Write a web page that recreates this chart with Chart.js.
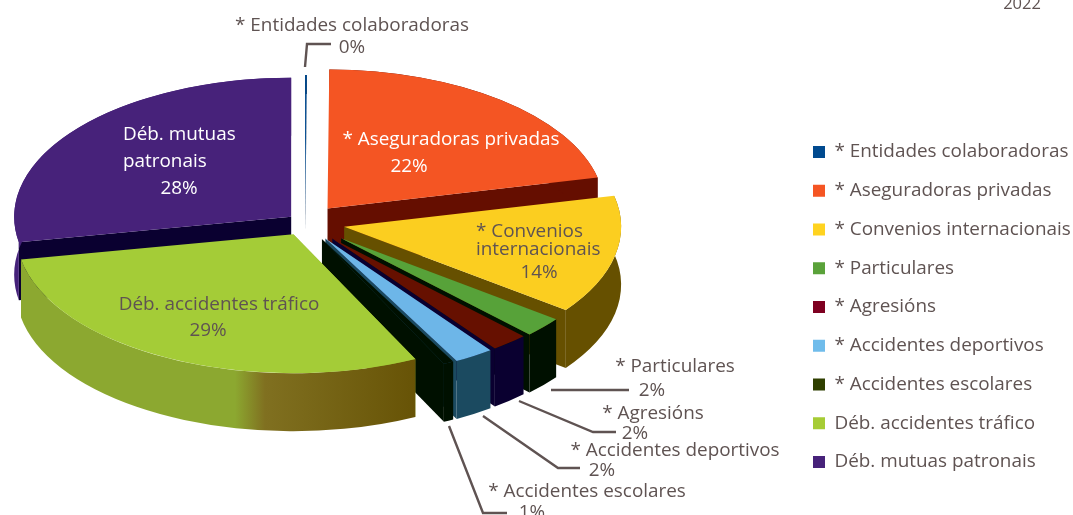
<!DOCTYPE html>
<html>
<head>
<meta charset="utf-8">
<script src="https://cdn.jsdelivr.net/npm/chart.js@4"></script>
<style>html,body{margin:0;padding:0;background:#fff;overflow:hidden}canvas{display:block}</style>
</head>
<body>
<canvas id="c" width="1073" height="515"></canvas>
<script>
const categories = ["* Entidades colaboradoras","* Aseguradoras privadas","* Convenios internacionais","* Particulares","* Agresións","* Accidentes deportivos","* Accidentes escolares","Déb. accidentes tráfico","Déb. mutuas patronais"];
const values = [0.1,21.3,13.8,2.4,2.2,2.3,0.6,29.3,27.9];
const shownPercent = ["0%","22%","14%","2%","2%","2%","1%","29%","28%"];
const topColors = ["#004a8f","#f45523","#fbce20","#57a239","#661000","#6db6e8","#001000","#a4cc37","#47227a"];
const legendColors = ["#004a8f","#f55523","#ffd320","#5aa23a","#7e0021","#70bceb","#2f3f00","#a6cc35","#47227a"];
const wallColors = ["#0a2a50","#650e00","#665000","#001000","#0a0030","#1b4a60","#001000","#8ca830","#0a0030"];
const sideColors = ["#0a2a50","#650e00","#665000","#001000","#0a0030","#1b4a60","#001000","#8ca830","#45217a"];
const explode = [17,36,40,48,42,38,37,26,18];
const radiusScale = [1,1,1,0.97,0.985,1,1,1,1];
const paintOrder = [0,8,1,2,3,4,5,6,7];

const view = {cx:305, cy:222.5, rx:277, ry:139, depth:58, thinDepth:19};
const textColor = "#5f5352";
const font = '18.9px "Open Sans"';
const textLines = [
  {t:categories[0], x:352, y:26, c:textColor},
  {i:0, x:352, y:48, c:textColor},
  {t:categories[1], x:451, y:140, c:"#fff"},
  {i:1, x:409, y:167, c:"#fff"},
  {t:"* Convenios", x:476, y:232, a:"left", c:textColor},
  {t:"internacionais", x:476, y:250, a:"left", c:textColor},
  {i:2, x:539, y:273, c:textColor},
  {t:categories[3], x:675, y:367, c:textColor},
  {i:3, x:652, y:391, c:textColor},
  {t:categories[4], x:653, y:414, c:textColor},
  {i:4, x:635, y:434, c:textColor},
  {t:categories[5], x:675, y:451, c:textColor},
  {i:5, x:602, y:471, c:textColor},
  {t:categories[6], x:587, y:492, c:textColor},
  {i:6, x:532, y:513, c:textColor},
  {t:"Déb. accidentes tráfico", x:219, y:305, c:textColor},
  {i:7, x:208, y:331, c:textColor},
  {t:"Déb. mutuas", x:123, y:135, a:"left", c:"#fff"},
  {t:"patronais", x:123, y:162, a:"left", c:"#fff"},
  {i:8, x:179, y:189, c:"#fff"},
  {t:"2022", x:1022, y:4, c:textColor, f:'16.5px "Open Sans"'}
];
const leaders = [
  [[305,67],[307,44],[331,44]],
  [[551,390],[629,390]],
  [[519,401],[593,432],[616,432]],
  [[483,416],[558,468],[580,468]],
  [[449,426],[483,513],[507,513]]
];

function sliceGeom(arc, i){
  const mid = (arc.startAngle + arc.endAngle)/2;
  const ax = view.cx + explode[i]*Math.cos(mid);
  const ay = view.cy + explode[i]*Math.sin(mid)*view.ry/view.rx;
  return {mid, ax, ay, rx:view.rx*radiusScale[i], ry:view.ry*radiusScale[i]};
}

function sideFill(ctx, i){
  if (i !== 7) return sideColors[i];
  const g = ctx.createLinearGradient(21,0,416,0);
  g.addColorStop(0,"#8ca830");
  g.addColorStop((235-21)/395,"#8ca830");
  g.addColorStop((265-21)/395,"#807020");
  g.addColorStop(1,"#675306");
  return g;
}

const pie3d = {
  id:"pie3d",
  afterLayout(chart){
    const lg = chart.legend;
    const pad = lg.options.labels.padding;
    const w = lg.width, h = lg.height;
    lg.left = 813 - pad; lg.right = lg.left + w;
    lg.top = 152 - 9.45 - pad; lg.bottom = lg.top + h;
  },
  beforeDatasetDraw(chart, args){
    const ctx = chart.ctx, arcs = args.meta.data;
    paintOrder.forEach(i=>{
      const arc = arcs[i], g = sliceGeom(arc,i);
      const d = i===0 ? view.thinDepth : view.depth;
      // cut face
      const useEnd = (g.mid + Math.PI/2) < Math.PI;
      const wa = useEnd ? arc.endAngle : arc.startAngle;
      const ex = g.ax + g.rx*Math.cos(wa), ey = g.ay + g.ry*Math.sin(wa);
      ctx.beginPath();
      ctx.moveTo(g.ax,g.ay); ctx.lineTo(ex,ey); ctx.lineTo(ex,ey+d); ctx.lineTo(g.ax,g.ay+d); ctx.closePath();
      ctx.fillStyle = wallColors[i]; ctx.fill();
      // outer rim
      ctx.beginPath();
      ctx.ellipse(g.ax,g.ay,g.rx,g.ry,0,arc.startAngle,arc.endAngle,false);
      ctx.ellipse(g.ax,g.ay+d,g.rx,g.ry,0,arc.endAngle,arc.startAngle,true);
      ctx.closePath();
      ctx.fillStyle = sideFill(ctx,i); ctx.fill();
    });
    // top faces: the library's own arcs under an oblique view
    arcs.forEach((arc,i)=>{
      const g = sliceGeom(arc,i), R = arc.outerRadius;
      ctx.save();
      ctx.translate(g.ax,g.ay);
      ctx.scale(g.rx/R, g.ry/R);
      ctx.translate(-arc.x,-arc.y);
      arc.draw(ctx);
      ctx.restore();
    });
    return false;
  },
  afterDatasetsDraw(chart){
    const ctx = chart.ctx;
    ctx.save();
    ctx.strokeStyle = textColor; ctx.lineWidth = 2.4; ctx.lineJoin="miter";
    leaders.forEach(l=>{
      ctx.beginPath();
      l.forEach((p,k)=> k? ctx.lineTo(p[0],p[1]) : ctx.moveTo(p[0],p[1]));
      ctx.stroke();
    });
    ctx.textBaseline="middle";
    textLines.forEach(l=>{
      ctx.font = l.f || font;
      ctx.textAlign = l.a || "center";
      ctx.fillStyle = l.c;
      ctx.fillText(l.t !== undefined ? l.t : shownPercent[l.i], l.x, l.y);
    });
    ctx.restore();
  }
};

new Chart(document.getElementById("c"),{
  type:"pie",
  data:{labels:categories,datasets:[{data:values,backgroundColor:topColors,borderWidth:0}]},
  plugins:[pie3d],
  options:{
    responsive:false,animation:false,
    layout:{padding:0},
    plugins:{
      tooltip:{enabled:false},
      legend:{position:"right",align:"start",labels:{
        boxWidth:12,boxHeight:12,padding:19.85,color:textColor,
        font:{family:"Open Sans",size:18.9},
        generateLabels(chart){
          return categories.map((t,i)=>({text:t,fillStyle:legendColors[i],strokeStyle:legendColors[i],fontColor:textColor,lineWidth:0,hidden:false,index:i}));
        }
      }}
    }
  }
});
</script>
</body>
</html>
